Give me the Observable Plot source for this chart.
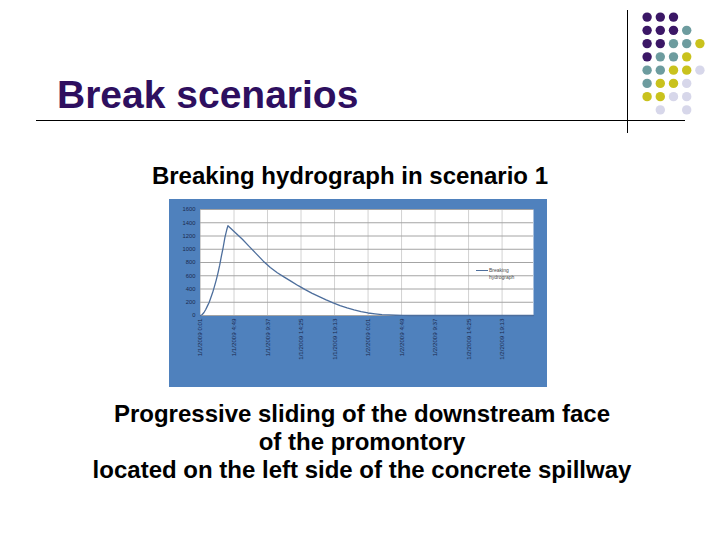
<!DOCTYPE html>
<html><head><meta charset="utf-8">
<script src="https://cdn.jsdelivr.net/npm/d3@7"></script>
<script src="https://cdn.jsdelivr.net/npm/@observablehq/plot@0.6"></script>
<style>
html,body{margin:0;padding:0;background:#fff;}
body{width:720px;height:540px;position:relative;overflow:hidden;font-family:"Liberation Sans",Arial,sans-serif;}
#title{position:absolute;left:57px;top:75px;font-size:39px;line-height:39px;font-weight:bold;color:#2e0f5f;white-space:nowrap;}
#hrule{position:absolute;left:36px;top:120px;width:649px;height:1px;background:#000;}
#vrule{position:absolute;left:627px;top:10px;width:1px;height:123px;background:#000;}
#dots{position:absolute;left:640px;top:10px;}
#subtitle{position:absolute;left:0;width:700px;text-align:center;top:164px;font-size:24px;line-height:24px;font-weight:bold;color:#000;white-space:nowrap;}
#chart{position:absolute;left:169px;top:199px;}
#legend{position:absolute;left:476px;top:267px;font-size:5px;line-height:7px;color:#4a4a4a;white-space:nowrap;}
#caption{position:absolute;left:0;width:724px;text-align:center;top:399.5px;font-size:24px;line-height:28px;font-weight:bold;color:#000;}
</style>
</head><body>
<div id="title">Break scenarios</div>
<div id="hrule"></div>
<div id="vrule"></div>
<div id="dots"></div>
<div id="subtitle">Breaking hydrograph in scenario 1</div>
<div id="chart"></div>
<div id="legend"><span style="display:inline-block;width:12px;height:0;border-top:1px solid #4d6e9c;vertical-align:middle;margin-right:1px"></span>Breaking<br><span style="margin-left:13px">hydrograph</span></div>
<div id="caption">Progressive sliding of the downstream face<br>of the promontory<br>located on the left side of the concrete spillway</div>
<script>
// ---- data ----
const tickLabels = ["1/1/2009 0:01","1/1/2009 4:49","1/1/2009 9:37","1/1/2009 14:25","1/1/2009 19:13",
  "1/2/2009 0:01","1/2/2009 4:49","1/2/2009 9:37","1/2/2009 14:25","1/2/2009 19:13"];
const yTicks = [0,200,400,600,800,1000,1200,1400,1600];
const hours = [0,0.25,0.5,0.75,1,1.25,1.5,1.75,2,2.25,2.5,2.75,3,3.25,3.5,3.75,3.93,
  5,6,7,8,9,10,11,12,13,14,15,16,17,18,19,20,21,22,23,24,25,26,27,28,29,30,36,42,47.7];
const flow = [0,15,45,90,145,200,275,350,440,535,640,760,900,1030,1180,1290,1355,
  1250,1150,1040,930,820,725,645,580,515,450,390,335,285,235,190,150,115,85,58,38,25,14,8,4,2,0,0,0,0];
const dotPattern = ["PPP  ","PPPT ","PPTTY","PTTY ","TTYYL","TYYL ","YYLL "," L L "];
const dotColors = {P:"#3b1766",T:"#6d9c9f",Y:"#c9c21d",L:"#d7d7ea"};

// ---- build ----
const parse = s => { const [d,t] = s.split(" "); const [m,dd,y] = d.split("/").map(Number); const [h,mi] = t.split(":").map(Number); return new Date(y,m-1,dd,h,mi); };
const t0 = parse(tickLabels[0]);
const tickDates = tickLabels.map(parse);
const data = hours.map((h,i)=>({t:new Date(+t0 + h*3600e3), q:flow[i]}));
const fmt = d => `${d.getMonth()+1}/${d.getDate()}/${d.getFullYear()} ${d.getHours()}:${String(d.getMinutes()).padStart(2,"0")}`;

const chart = Plot.plot({
  width:378, height:188,
  marginLeft:31, marginRight:14, marginTop:10, marginBottom:72,
  style:{background:"#4f81bd", fontFamily:"'Liberation Sans',Arial,sans-serif", overflow:"visible"},
  x:{type:"time", domain:[t0, new Date(+t0 + 47.7*3600e3)]},
  y:{domain:[0,1600]},
  marks:[
    Plot.frame({fill:"white"}),
    Plot.gridX(tickDates,{stroke:"#d2d2d2", strokeOpacity:1}),
    Plot.gridY(yTicks,{stroke:"#a4a4a4", strokeOpacity:1}),
    Plot.line(data,{x:"t", y:"q", stroke:"#4d6e9c", strokeWidth:1.3}),
    Plot.axisX(tickDates,{tickRotate:-90, tickSize:0, tickPadding:3, tickFormat:fmt, fontSize:6.2, fill:"#1b2a4e", label:null}),
    Plot.axisY(yTicks,{tickSize:0, tickPadding:5, tickFormat:d3.format("d"), fontSize:5.8, fill:"#1b2a4e", label:null})
  ]
});
document.getElementById("chart").appendChild(chart);

const dotData = [];
dotPattern.forEach((row,r)=>[...row].forEach((c,col)=>{ if(c!==" ") dotData.push({col,row:r,color:dotColors[c]}); }));
const dots = Plot.plot({
  width:66, height:106, margin:6.6,
  x:{domain:[0,4], axis:null},
  y:{domain:[0,7], axis:null, reverse:true},
  color:{type:"identity"},
  marks:[Plot.dot(dotData,{x:"col", y:"row", r:4.7, fill:"color"})]
});
document.getElementById("dots").appendChild(dots);
</script>
</body></html>
